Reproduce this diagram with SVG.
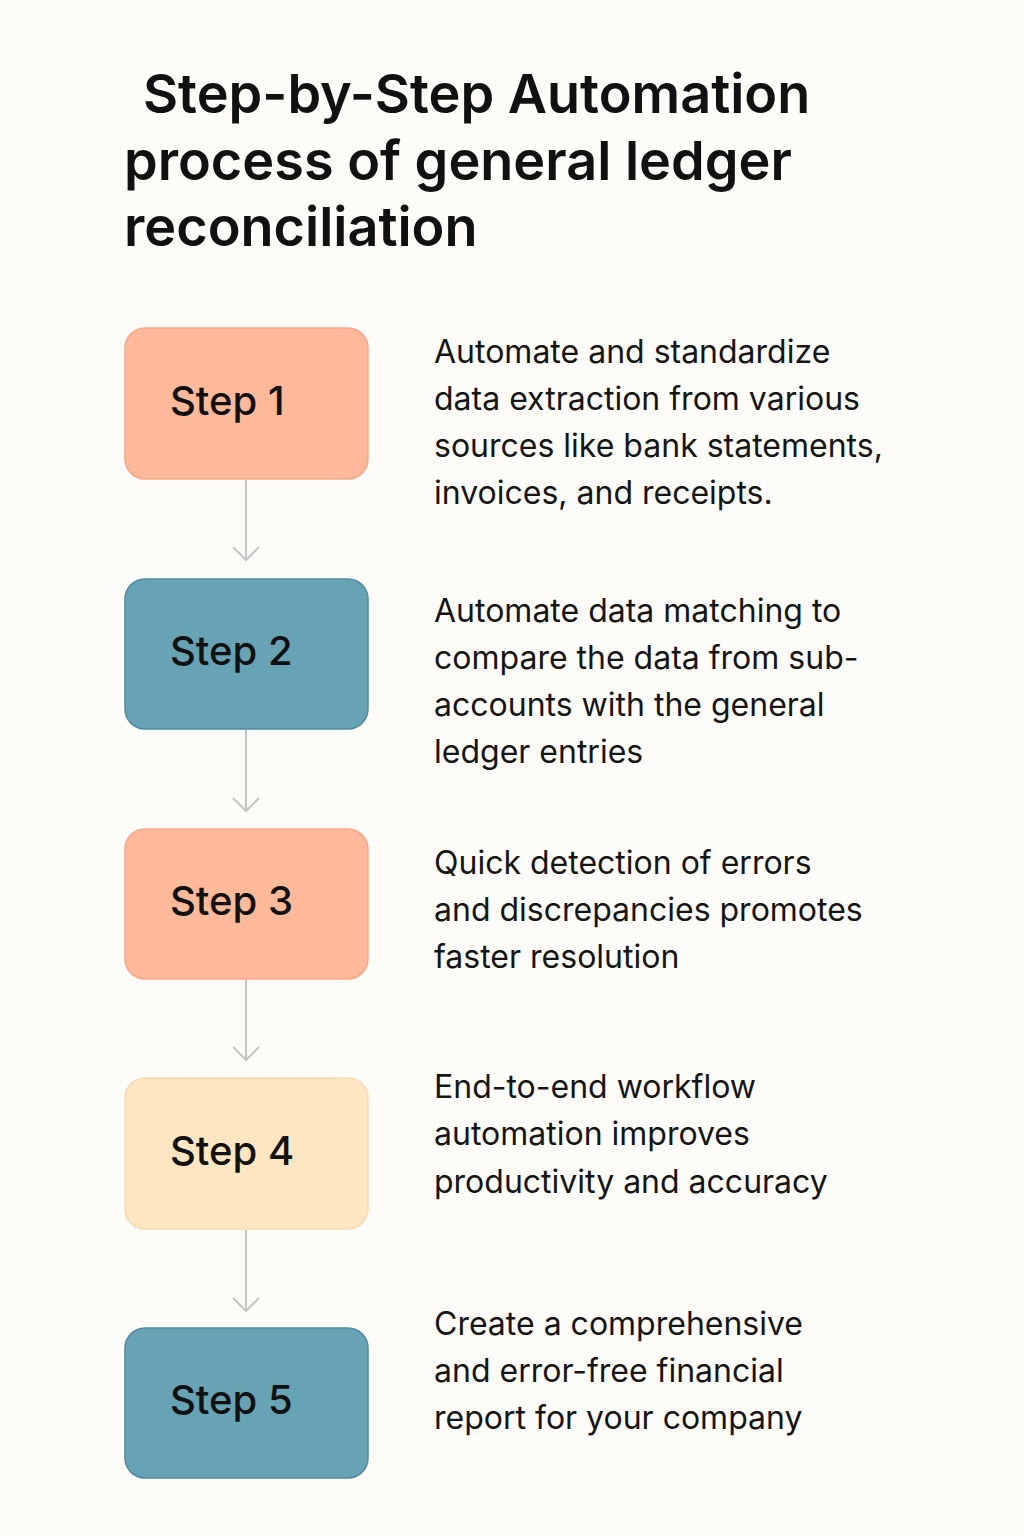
<svg xmlns="http://www.w3.org/2000/svg" width="1024" height="1536" viewBox="0 0 1024 1536">
<style>
.t{font-family:Inter,"Liberation Sans",sans-serif;font-weight:600;font-size:54px;fill:#111}
.s{font-family:Inter,"Liberation Sans",sans-serif;font-weight:500;font-size:40px;fill:#111}
.d{font-family:Inter,"Liberation Sans",sans-serif;font-size:32px;fill:#151515}
.or{fill:#feb89a;stroke:#f6a886;stroke-width:1.5}
.bl{fill:#68a2b5;stroke:#4f8aa0;stroke-width:1.5}
.ye{fill:#fee6c3;stroke:#f6dbb3;stroke-width:1.5}
.c{stroke:#c4c4c4;stroke-width:2;fill:none}
</style>
<defs><marker id="a" markerWidth="16" markerHeight="28" refX="14" refY="14" orient="auto" markerUnits="userSpaceOnUse"><path d="M1,1 L14,14 L1,27" fill="none" stroke="#c4c4c4" stroke-width="2"/></marker></defs>
<rect width="1024" height="1536" fill="#fefcf8"/>
<g id="title"><text class="t" x="143" y="113">Step-by-Step Automation</text><text class="t" x="124" y="180">process of general ledger</text><text class="t" x="124" y="246">reconciliation</text></g>
<g id="connectors">
<line class="c" x1="246" y1="480" x2="246" y2="560" marker-end="url(#a)"/>
<line class="c" x1="246" y1="730" x2="246" y2="811" marker-end="url(#a)"/>
<line class="c" x1="246" y1="980" x2="246" y2="1060" marker-end="url(#a)"/>
<line class="c" x1="246" y1="1230" x2="246" y2="1311" marker-end="url(#a)"/>
</g>
<g id="step1"><rect class="or" x="125" y="328" width="243" height="151" rx="20"/><text class="s" x="170" y="415">Step 1</text>
<text class="d" x="434" y="363">Automate and standardize</text><text class="d" x="434" y="410">data extraction from various</text><text class="d" x="434" y="457">sources like bank statements,</text><text class="d" x="434" y="504">invoices, and receipts.</text></g>
<g id="step2"><rect class="bl" x="125" y="579" width="243" height="150" rx="20"/><text class="s" x="170" y="665">Step 2</text>
<text class="d" x="434" y="622">Automate data matching to</text><text class="d" x="434" y="669">compare the data from sub-</text><text class="d" x="434" y="716">accounts with the general</text><text class="d" x="434" y="763">ledger entries</text></g>
<g id="step3"><rect class="or" x="125" y="829" width="243" height="150" rx="20"/><text class="s" x="170" y="915">Step 3</text>
<text class="d" x="434" y="874">Quick detection of errors</text><text class="d" x="434" y="921">and discrepancies promotes</text><text class="d" x="434" y="968">faster resolution</text></g>
<g id="step4"><rect class="ye" x="125" y="1078" width="243" height="151" rx="20"/><text class="s" x="170" y="1165">Step 4</text>
<text class="d" x="434" y="1098">End-to-end workflow</text><text class="d" x="434" y="1145">automation improves</text><text class="d" x="434" y="1193">productivity and accuracy</text></g>
<g id="step5"><rect class="bl" x="125" y="1328" width="243" height="150" rx="20"/><text class="s" x="170" y="1414">Step 5</text>
<text class="d" x="434" y="1335">Create a comprehensive</text><text class="d" x="434" y="1382">and error-free financial</text><text class="d" x="434" y="1429">report for your company</text></g>
</svg>
